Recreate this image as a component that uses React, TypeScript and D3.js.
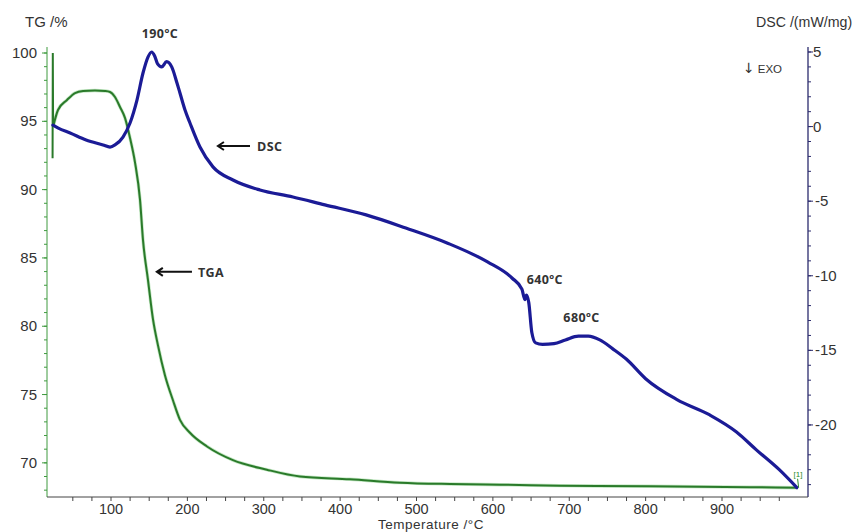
import React from "react";
import * as d3 from "d3";

// ---- data ----
const tgaTemp = [23.5, 23.8, 24.2, 30.6, 42.4, 52.9, 63.4, 79, 92.1, 98.7, 105.2, 111.8, 118.3, 124.9, 131.4, 138, 141.9, 148.4, 155, 161.5, 170.7, 181, 190.3, 203.4, 225.7, 259.7, 304, 347.4, 412.8, 478.3, 543.8, 609.3, 687.9, 805.7, 936.6, 999.5];
const tgaMass = [92.3, 100.0, 94.6, 95.83, 96.56, 97.07, 97.22, 97.26, 97.22, 97.15, 96.78, 96.05, 95.25, 93.78, 92.0, 89.25, 86.3, 83.4, 80.5, 78.6, 76.4, 74.6, 73.15, 72.2, 71.2, 70.2, 69.5, 69.0, 68.8, 68.55, 68.45, 68.4, 68.33, 68.29, 68.22, 68.18];

const dscTemp = [24, 31, 46.5, 67.4, 89.6, 98.7, 105.2, 115.7, 124.9, 134, 141.9, 148.4, 153.2, 157, 161, 166.4, 172.8, 179.5, 186.4, 190.3, 196.9, 203.4, 216.5, 233.5, 259.7, 295, 338.2, 380, 434, 486, 540, 593, 625, 638, 642, 644, 647, 651, 656, 665, 680, 695, 712, 725, 740, 757, 775, 800, 841, 884, 919, 945, 975, 998];
const dscFlow = [0.1, -0.1, -0.43, -0.9, -1.23, -1.37, -1.23, -0.7, 0.24, 1.78, 3.59, 4.66, 5.0, 4.75, 4.2, 4.0, 4.35, 4.0, 2.92, 2.25, 1.11, 0.24, -1.37, -2.7, -3.58, -4.25, -4.72, -5.25, -5.92, -6.8, -7.8, -9.07, -10.15, -10.9, -11.6, -11.3, -11.8, -13.8, -14.5, -14.6, -14.55, -14.3, -14.05, -14.05, -14.3, -14.9, -15.6, -16.9, -18.3, -19.33, -20.47, -21.67, -23.0, -24.2];

const xTicks = [100, 200, 300, 400, 500, 600, 700, 800, 900];
const xMinorTicks = d3.range(50, 1000, 25);
const tgTicks = [70, 75, 80, 85, 90, 95, 100];
const tgMinorTicks = d3.range(68, 101, 1);
const dscTicks = [5, 0, -5, -10, -15, -20];
const dscMinorTicks = d3.range(-24, 6, 1);

const xTitle = "Temperature /°C";
const tgTitle = "TG /%";
const dscTitle = "DSC /(mW/mg)";
const exoArrow = "↓";
const exoLabel = "EXO";

export default function App() {
  const W = 853, H = 532;
  const L = 47, R = 808, T = 47, B = 497;

  const x = d3.scaleLinear().domain([16.2, 1012.6]).range([L, R]);
  const yTG = d3.scaleLinear().domain([67.5, 100.44]).range([B, T]);
  const yDSC = d3.scaleLinear().domain([-24.83, 5.335]).range([B, T]);

  const tgaIdx = tgaTemp.map((_, i) => i);
  const spikeLine = d3.line<number>()
    .x((i) => x(tgaTemp[i]))
    .y((i) => yTG(tgaMass[i]))
    .curve(d3.curveLinear);
  const tgaLine = d3.line<number>()
    .x((i) => x(tgaTemp[i]))
    .y((i) => yTG(tgaMass[i]))
    .curve(d3.curveMonotoneX);
  const dscLine = d3.line<number>()
    .x((d, i) => x(dscTemp[i]))
    .y((d) => yDSC(d))
    .curve(d3.curveMonotoneX);

  const spikePath = spikeLine(tgaIdx.slice(0, 3)) || "";
  const tgaPath = tgaLine(tgaIdx.slice(2)) || "";

  const font = "'Liberation Sans', Arial, sans-serif";
  const bold = "'Open Sans', 'Noto Sans', sans-serif";
  const labelColor = "#333";

  const greenAxis = "#3f9a3f";
  const blueAxis = "#2c2c6e";

  const dscArrowY = yDSC(-1.3);
  const tgaArrowY = yTG(83.98);

  const annStyle = { fontFamily: bold, fontWeight: 700, fontSize: 12.5, letterSpacing: 0.4, fill: labelColor } as const;

  return (
    <svg width={W} height={H} style={{ position: "absolute", left: 0, top: 0, background: "#fff" }}>
      <rect x={0} y={0} width={W} height={H} fill="#fff" />

      {/* left TG axis */}
      <line x1={L} x2={L} y1={T} y2={B} stroke={greenAxis} strokeWidth={1} />
      {tgMinorTicks.map((t) => (
        <line key={"tgm" + t} x1={L - 3} x2={L} y1={yTG(t)} y2={yTG(t)} stroke={greenAxis} strokeWidth={1} />
      ))}
      {tgTicks.map((t) => (
        <g key={"tg" + t}>
          <line x1={L - 5} x2={L} y1={yTG(t)} y2={yTG(t)} stroke={greenAxis} strokeWidth={1} />
          <text x={L - 10} y={yTG(t) + 5} textAnchor="end" fontFamily={font} fontSize={15} fill={labelColor}>{t}</text>
        </g>
      ))}
      <text x={25} y={27} fontFamily={font} fontSize={15} fill={labelColor}>{tgTitle}</text>

      {/* right DSC axis */}
      <line x1={R} x2={R} y1={T} y2={B} stroke={blueAxis} strokeWidth={1.3} />
      {dscMinorTicks.map((t) => (
        <line key={"dm" + t} x1={R} x2={R + 3} y1={yDSC(t)} y2={yDSC(t)} stroke={blueAxis} strokeWidth={1} />
      ))}
      {dscTicks.map((t) => (
        <g key={"d" + t}>
          <line x1={R} x2={R + 5} y1={yDSC(t)} y2={yDSC(t)} stroke={blueAxis} strokeWidth={1} />
          <text x={t < 0 ? R + 7 : R + 5} y={yDSC(t) + 5} textAnchor="start" fontFamily={font} fontSize={15} fill={labelColor}>{t}</text>
        </g>
      ))}
      <text x={756} y={27} fontFamily={font} fontSize={14.2} fill={labelColor}>{dscTitle}</text>
      <text x={743} y={73} fontFamily={font} fill={labelColor}>
        <tspan fontSize={14} fontFamily="'DejaVu Sans', sans-serif">{exoArrow}</tspan>
        <tspan fontSize={11.5} dx={3}>{exoLabel}</tspan>
      </text>

      {/* bottom axis */}
      <line x1={L} x2={R} y1={B} y2={B} stroke="#444" strokeWidth={1} />
      {xMinorTicks.map((t) => (
        <line key={"xm" + t} x1={x(t)} x2={x(t)} y1={B} y2={B + 4} stroke="#444" strokeWidth={1} />
      ))}
      {xTicks.map((t) => (
        <text key={"x" + t} x={x(t)} y={514} textAnchor="middle" fontFamily={font} fontSize={14.5} fill={labelColor}>{t}</text>
      ))}
      <text x={431} y={528.5} textAnchor="middle" fontFamily={font} fontSize={13.5} letterSpacing={0.5} fill={labelColor}>{xTitle}</text>

      {/* curves */}
      <path d={tgaPath} fill="none" stroke="#9fd89f" strokeWidth={3.4} strokeLinejoin="round" opacity={0.6} />
      <path d={spikePath} fill="none" stroke="#2a7a2a" strokeWidth={2} strokeLinejoin="miter" />
      <path d={tgaPath} fill="none" stroke="#2a7a2a" strokeWidth={2} strokeLinejoin="round" />
      <path d={dscLine(dscFlow) || ""} fill="none" stroke="#1b1b96" strokeWidth={3.2} strokeLinejoin="round" strokeLinecap="round" />

      {/* end marker */}
      <text x={x(999) - 4} y={yTG(68.18) - 11} fontFamily={font} fontSize={8} fill="#2a8a2a">[1]</text>
      <line x1={x(999)} x2={x(999) + 1} y1={yTG(68.18) - 9} y2={yTG(68.18)} stroke="#2a8a2a" strokeWidth={1} />

      {/* annotations */}
      <text x={x(164)} y={38} textAnchor="middle" {...annStyle}>190ºC</text>
      <text x={x(668)} y={yDSC(-10.55)} textAnchor="middle" {...annStyle}>640ºC</text>
      <text x={x(716)} y={yDSC(-13.1)} textAnchor="middle" {...annStyle}>680ºC</text>

      <path d={`M${x(282)},${dscArrowY} L${x(240)},${dscArrowY} M${x(240) + 6},${dscArrowY - 4} L${x(240)},${dscArrowY} L${x(240) + 6},${dscArrowY + 4}`} fill="none" stroke="#111" strokeWidth={2} />
      <text x={x(282) + 7} y={dscArrowY + 5} {...annStyle}>DSC</text>

      <path d={`M${x(206)},${tgaArrowY} L${x(160)},${tgaArrowY} M${x(160) + 6},${tgaArrowY - 4} L${x(160)},${tgaArrowY} L${x(160) + 6},${tgaArrowY + 4}`} fill="none" stroke="#111" strokeWidth={2} />
      <text x={x(206) + 6} y={tgaArrowY + 5} {...annStyle}>TGA</text>
    </svg>
  );
}
